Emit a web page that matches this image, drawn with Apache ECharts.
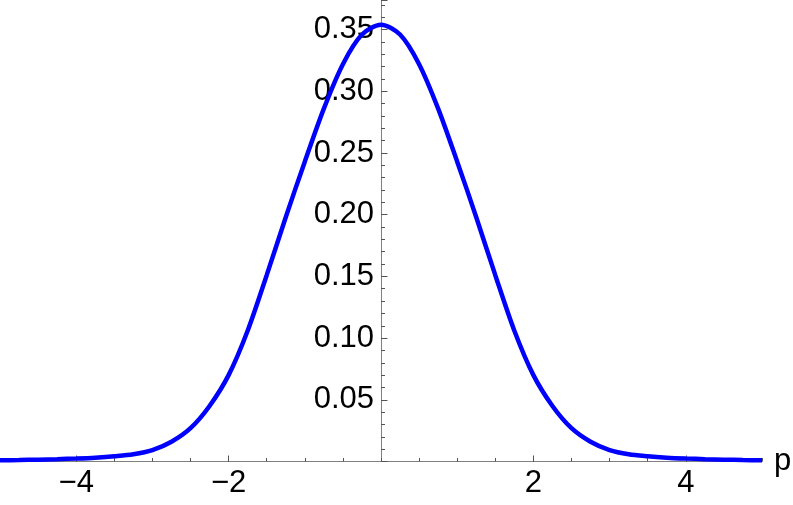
<!DOCTYPE html>
<html>
<head>
<meta charset="utf-8">
<script src="https://cdn.jsdelivr.net/npm/echarts@6/dist/echarts.min.js"></script>
<style>
  html, body { margin: 0; padding: 0; background: #fff; }
  #chart { width: 793px; height: 505px; }
</style>
</head>
<body>
<div id="chart"></div>
<script>
// values
const pValues = [
  -5, -4.75, -4.5, -4.25, -4, -3.75, -3.5, -3.25, -3, -2.75, -2.5, -2.25, -2,
  -1.75, -1.5, -1.25, -1, -0.75, -0.5, -0.25, 0,
  0.25, 0.5, 0.75, 1, 1.25, 1.5, 1.75, 2, 2.25, 2.5, 2.75, 3,
  3.25, 3.5, 3.75, 4, 4.25, 4.5, 4.75, 5
];
const density = [
  0.001, 0.0012, 0.0015, 0.0019, 0.0024, 0.0031, 0.0042, 0.0058, 0.0092, 0.016, 0.027, 0.045, 0.070,
  0.106, 0.151, 0.198, 0.243, 0.286, 0.322, 0.346, 0.354,
  0.346, 0.322, 0.286, 0.243, 0.198, 0.151, 0.106, 0.070, 0.045, 0.027, 0.016, 0.0092,
  0.0058, 0.0042, 0.0031, 0.0024, 0.0019, 0.0015, 0.0012, 0.001
];
const xLabels = [-4, -2, 2, 4];

const axisGray = "#808080";
const font = "'Liberation Sans', Arial, sans-serif";

const chart = echarts.init(document.getElementById("chart"));

const option = {
  animation: false,
  backgroundColor: "#fff",
  grid: {
    left: 0, right: 31, top: 0, bottom: 43.5,
    containLabel: false,
    outerBoundsMode: "none"
  },
  xAxis: [
    {
      type: "value",
      min: -5,
      max: 5,
      name: "p",
      nameLocation: "end",
      nameGap: 12,
      nameTextStyle: { color: "#000", fontSize: 31, fontFamily: font },
      axisLine: { onZero: false, lineStyle: { color: axisGray, width: 1 } },
      axisTick: {
        inside: true,
        length: 6,
        customValues: xLabels,
        lineStyle: { color: "#555" }
      },
      axisLabel: {
        customValues: xLabels,
        color: "#000",
        fontSize: 31,
        fontFamily: font,
        margin: 6,
        formatter: v => (v < 0 ? "\u2212" + Math.abs(v) : String(v))
      },
      splitLine: { show: false }
    },
    {
      type: "value",
      min: -5,
      max: 5,
      interval: 0.5,
      position: "bottom",
      axisLine: { show: false, onZero: false },
      axisTick: { inside: true, length: 3.5, lineStyle: { color: "#555" } },
      axisLabel: { show: false },
      splitLine: { show: false }
    }
  ],
  yAxis: {
    type: "value",
    min: 0,
    max: 0.374,
    interval: 0.05,
    position: "left",
    offset: -381,
    axisLine: { show: true, onZero: false, lineStyle: { color: axisGray, width: 1 } },
    axisTick: { show: true, inside: true, length: 6.5, lineStyle: { color: "#555" } },
    minorTick: { show: true, splitNumber: 5, length: 4, lineStyle: { color: "#555" } },
    axisLabel: {
      color: "#000",
      fontSize: 31,
      fontFamily: font,
      margin: 7,
      showMaxLabel: false,
      formatter: v => (v === 0 ? "" : v.toFixed(2))
    },
    splitLine: { show: false }
  },
  series: [
    {
      type: "line",
      xAxisIndex: 0,
      data: pValues.map((p, i) => [p, density[i]]),
      smooth: 0.3,
      showSymbol: false,
      lineStyle: { color: "#0000ff", width: 4.5 },
      z: 5
    }
  ]
};

chart.setOption(option);
</script>
</body>
</html>
